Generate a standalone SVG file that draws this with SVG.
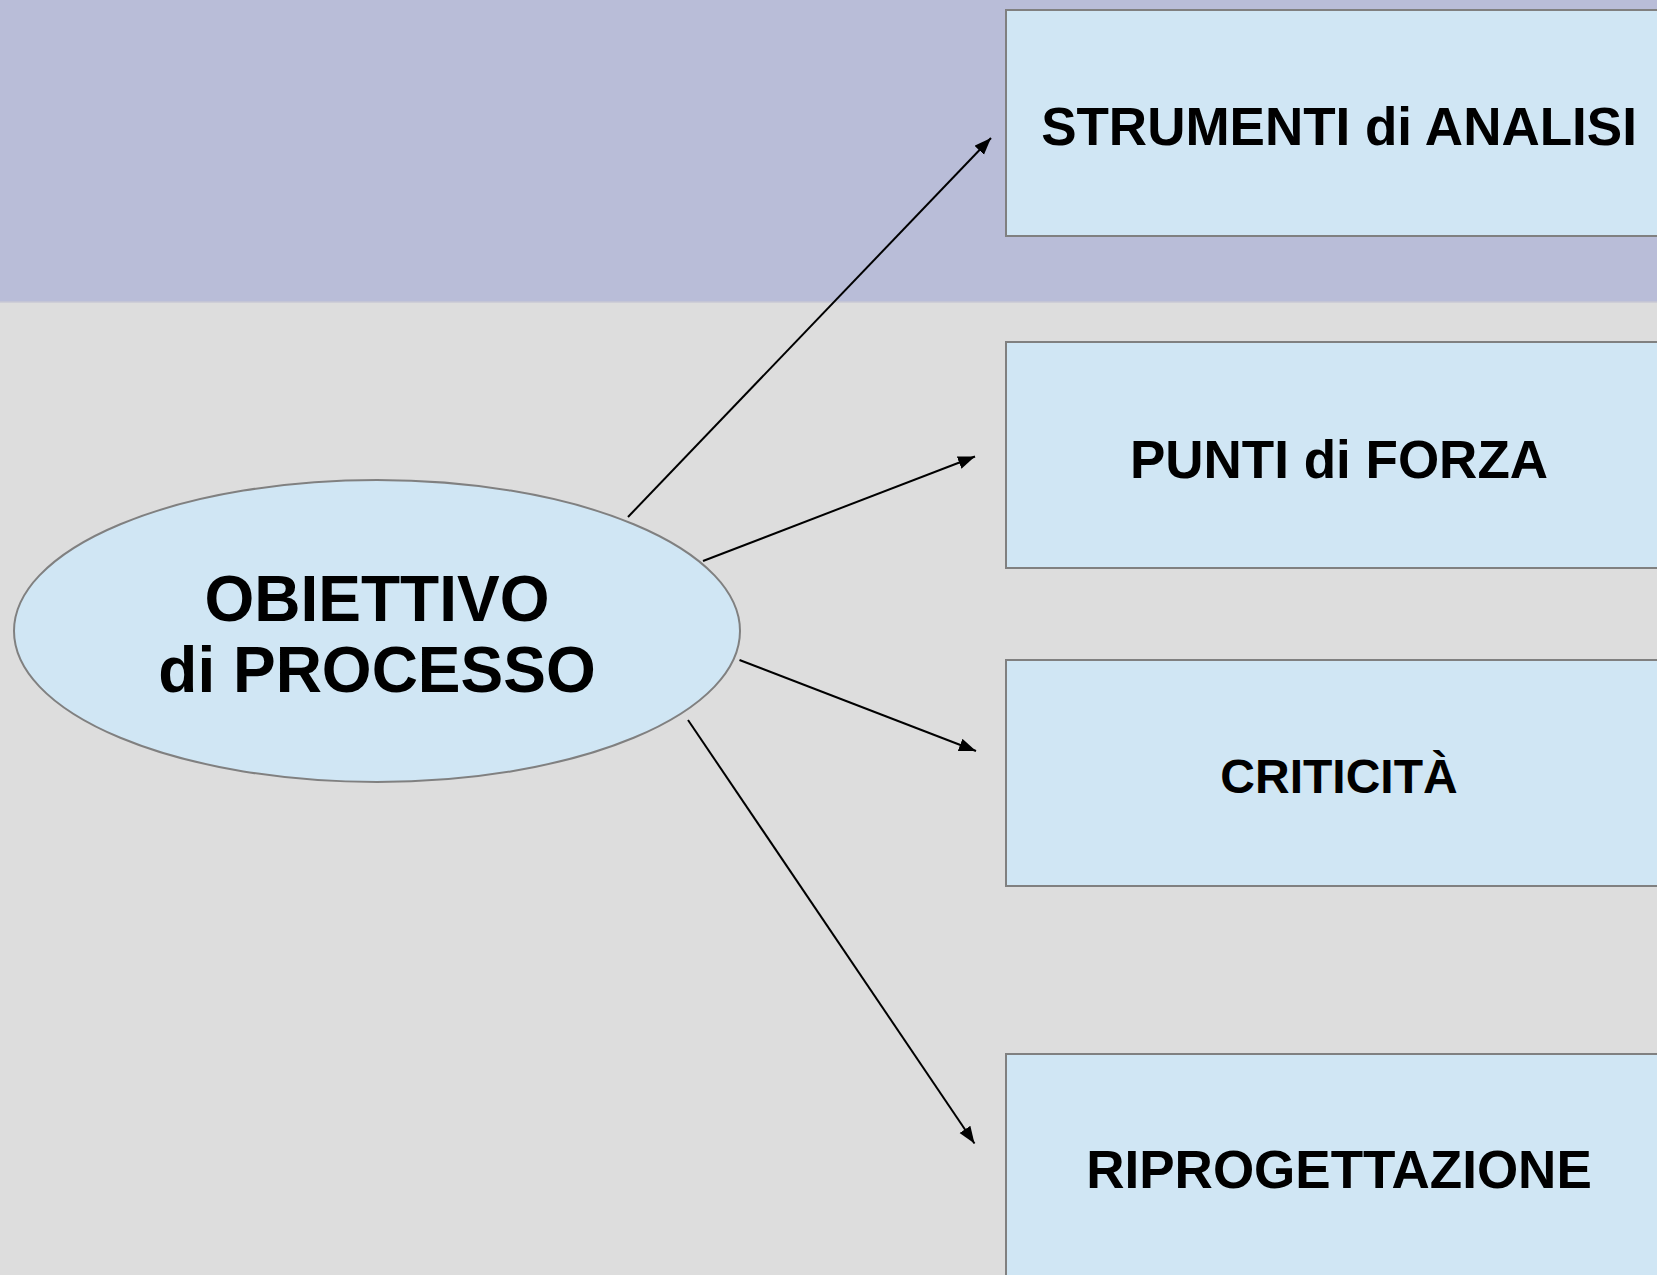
<svg xmlns="http://www.w3.org/2000/svg" width="1657" height="1275" viewBox="0 0 1657 1275">
<style>
.box{fill:#d0e6f4;stroke:#808080;stroke-width:2}
.lbl{font-family:"Liberation Sans",Arial,sans-serif;font-weight:bold;fill:#000;text-anchor:middle}
.conn{stroke:#000;stroke-width:2;fill:none;marker-end:url(#ah)}
</style>
<defs>
<marker id="ah" markerUnits="userSpaceOnUse" markerWidth="18" markerHeight="14" refX="17" refY="6.5" orient="auto">
<path d="M0,0 L17,6.5 L0,13 z" fill="#000"/>
</marker>
</defs>
<rect x="0" y="0" width="1657" height="1275" fill="#dddddd"/>
<rect x="0" y="0" width="1657" height="302" fill="#b9bdd8"/>
<line x1="0" y1="302" x2="1657" y2="302" stroke="#c8c8d4" stroke-width="1.5"/>
<g id="obiettivo">
<ellipse class="box" cx="377" cy="631" rx="363" ry="151"/>
<text class="lbl" x="377" y="621" font-size="64">OBIETTIVO</text>
<text class="lbl" x="377" y="692" font-size="64">di PROCESSO</text>
</g>
<g id="strumenti">
<rect class="box" x="1006" y="10" width="666" height="226"/>
<text class="lbl" x="1339" y="145" font-size="53">STRUMENTI di ANALISI</text>
</g>
<g id="punti">
<rect class="box" x="1006" y="342" width="666" height="226"/>
<text class="lbl" x="1339" y="478" font-size="53">PUNTI di FORZA</text>
</g>
<g id="criticita">
<rect class="box" x="1006" y="660" width="666" height="226"/>
<text class="lbl" x="1339" y="793" font-size="48">CRITICITÀ</text>
</g>
<g id="riprogettazione">
<rect class="box" x="1006" y="1054" width="666" height="240"/>
<text class="lbl" x="1339" y="1188" font-size="53">RIPROGETTAZIONE</text>
</g>
<g id="connectors">
<line class="conn" x1="628" y1="517" x2="991" y2="138"/>
<line class="conn" x1="703" y1="561" x2="975" y2="456.5"/>
<line class="conn" x1="739.5" y1="660" x2="976" y2="751"/>
<line class="conn" x1="688" y1="720" x2="974.5" y2="1143.5"/>
</g>
</svg>
